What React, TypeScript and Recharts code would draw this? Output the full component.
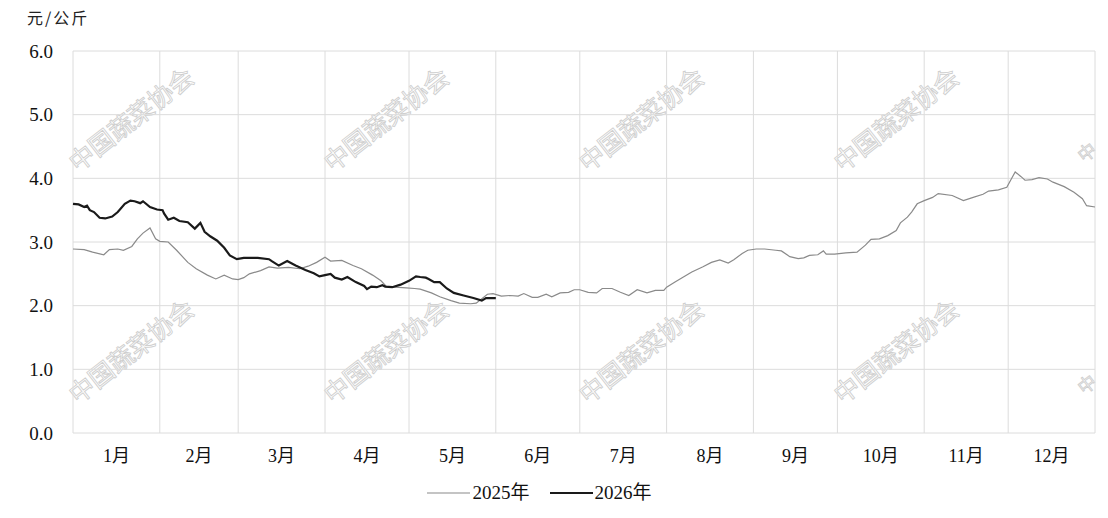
import React from "react"
import {
    LineChart,
    Line,
    XAxis,
    YAxis,
    CartesianGrid,
    ReferenceLine,
    Legend,
} from "recharts"

// day of year (0 = 1 Jan) and price
const days2025 = [
    0, 4, 7, 11, 13, 16, 18, 21, 23, 25, 27.5, 29.5, 31, 34, 37, 41, 44, 48, 51, 54, 57, 59, 61, 63,
    67, 70, 73, 77, 81, 84, 87, 90, 92, 96, 100, 103, 107, 110, 112, 115, 119, 122, 124, 128, 131,
    135, 138, 142, 144, 148, 150, 153, 156, 159, 161, 164, 166, 169, 171, 174, 177, 179, 181, 184,
    187, 189, 192.5, 195.5, 198.5, 201.5, 205, 208, 211, 212, 215, 218, 221, 225, 228, 231, 234,
    236, 239, 241, 244, 247, 251, 253, 256, 259, 261, 263, 266, 268, 269, 272, 276, 280, 283, 285,
    288, 291, 294, 295.5, 298, 299.5, 301.5, 304, 307, 309, 314, 318, 321.5, 325, 327, 330.5, 333.5,
    335.5, 336.5, 338.5, 340, 342.5, 345, 348, 350, 354, 357.5, 360.5, 362, 365,
]
const price2025 = [
    2.89, 2.88, 2.84, 2.8, 2.88, 2.89, 2.87, 2.93, 3.05, 3.14, 3.22, 3.05, 3.01, 3.0, 2.87, 2.68,
    2.58, 2.48, 2.42, 2.48, 2.42, 2.41, 2.44, 2.5, 2.55, 2.61, 2.59, 2.6, 2.58, 2.62, 2.68, 2.76,
    2.7, 2.71, 2.63, 2.58, 2.48, 2.39, 2.3, 2.29, 2.28, 2.27, 2.26, 2.2, 2.14, 2.08, 2.04, 2.03,
    2.04, 2.18, 2.19, 2.15, 2.16, 2.15, 2.19, 2.13, 2.13, 2.18, 2.14, 2.2, 2.21, 2.25, 2.25, 2.21,
    2.2, 2.27, 2.27, 2.21, 2.16, 2.25, 2.2, 2.24, 2.24, 2.29, 2.37, 2.45, 2.53, 2.61, 2.68, 2.72,
    2.67, 2.72, 2.82, 2.87, 2.89, 2.89, 2.87, 2.86, 2.77, 2.74, 2.75, 2.79, 2.8, 2.86, 2.81, 2.81,
    2.83, 2.84, 2.95, 3.04, 3.05, 3.1, 3.18, 3.3, 3.39, 3.47, 3.6, 3.65, 3.7, 3.76, 3.73, 3.65, 3.7,
    3.75, 3.8, 3.82, 3.86, 4.02, 4.1, 4.03, 3.97, 3.98, 4.01, 3.99, 3.94, 3.87, 3.78, 3.68, 3.57,
    3.55,
]

const days2026 = [
    0, 2, 4, 5, 6, 7.5, 9.5, 11.5, 14, 16, 18.5, 20.5, 22, 24, 25, 27.5, 30, 32, 32.5, 34, 36, 38,
    41, 43.5, 45.5, 47, 49, 51.5, 54, 56, 58.5, 61, 63, 66, 70, 71, 73.5, 76.5, 79.5, 83, 86, 88,
    90, 92, 93.5, 96, 98, 101, 104, 105, 106.5, 108.5, 110.5, 111.5, 114, 117, 120, 122.5, 124, 126,
    127, 129, 131, 133.5, 136, 139.5, 143, 146, 147.5, 151,
]
const price2026 = [
    3.6, 3.59, 3.55, 3.57, 3.5, 3.47, 3.38, 3.37, 3.4, 3.47, 3.6, 3.65, 3.64, 3.61, 3.64, 3.55, 3.51,
    3.5, 3.45, 3.35, 3.38, 3.33, 3.31, 3.21, 3.3, 3.16, 3.09, 3.02, 2.91, 2.79, 2.73, 2.75, 2.75,
    2.75, 2.73, 2.7, 2.63, 2.7, 2.63, 2.56, 2.51, 2.46, 2.48, 2.5, 2.44, 2.41, 2.45, 2.37, 2.31, 2.26,
    2.3, 2.29, 2.32, 2.3, 2.29, 2.33, 2.39, 2.46, 2.45, 2.44, 2.42, 2.37, 2.37, 2.27, 2.2, 2.16, 2.12,
    2.08, 2.12, 2.12,
]

const monthLabels = ["1月", "2月", "3月", "4月", "5月", "6月", "7月", "8月", "9月", "10月", "11月", "12月"]
const monthStarts = [0, 31, 59, 90, 120, 151, 181, 212, 243, 273, 304, 334, 365]
const monthMids = monthStarts.slice(0, 12).map((d, i) => (d + monthStarts[i + 1]) / 2)
const yTicks = [0, 1, 2, 3, 4, 5, 6]

const data2025 = days2025.map((day, i) => ({ day, value: price2025[i] }))
const data2026 = days2026.map((day, i) => ({ day, value: price2026[i] }))

const SERIF = '"Liberation Serif", "Times New Roman", "Noto Sans CJK SC", serif'
const GRID = "#dcdcdc"

// watermark centres (page background, not data)
const WATERMARKS = [130, 385, 640, 895].flatMap((x) => [
    { x, y: 118 },
    { x, y: 350 },
])

const LegendContent = () => (
    <div
        style={{
            height: 30,
            paddingTop: 9,
            paddingRight: 16,
            boxSizing: "border-box",
            display: "flex",
            justifyContent: "center",
            gap: 20,
            fontFamily: SERIF,
            fontSize: 19,
            lineHeight: "22px",
            color: "#111",
        }}
    >
        <span style={{ display: "flex", alignItems: "center", gap: 2 }}>
            <svg width="43" height="4">
                <line x1="0" y1="2" x2="43" y2="2" stroke="#8a8a8a" strokeWidth={1.2} />
            </svg>
            2025年
        </span>
        <span style={{ display: "flex", alignItems: "center", gap: 2 }}>
            <svg width="43" height="4">
                <line x1="0" y1="2" x2="43" y2="2" stroke="#1a1a1a" strokeWidth={2} />
            </svg>
            2026年
        </span>
    </div>
)

export default function App() {
    return (
        <div style={{ position: "absolute", left: 0, top: 0, width: 1108, height: 518, background: "#fff" }}>
            {/* watermark */}
            <svg width={1108} height={518} style={{ position: "absolute", left: 0, top: 0 }}>
                {WATERMARKS.map((w, i) => (
                    <text
                        key={i}
                        x={w.x}
                        y={w.y}
                        transform={`rotate(-38 ${w.x} ${w.y})`}
                        textAnchor="middle"
                        dominantBaseline="central"
                        fontFamily='"Noto Sans CJK SC", sans-serif'
                        fontSize={25}
                        fill="none"
                        stroke="#cfcfcf"
                        strokeWidth={0.9}
                    >
                        中国蔬菜协会
                    </text>
                ))}
                {[163, 395].map((y) => (
                    <text
                        key={y}
                        x={1084}
                        y={y}
                        transform={`rotate(-38 1084 ${y})`}
                        fontFamily='"Noto Sans CJK SC", sans-serif'
                        fontSize={18}
                        fill="none"
                        stroke="#cfcfcf"
                        strokeWidth={0.9}
                    >
                        中
                    </text>
                ))}
            </svg>
            <div
                style={{
                    position: "absolute",
                    left: 27,
                    top: 5,
                    fontFamily: '"Noto Sans CJK SC", sans-serif',
                    fontSize: 16,
                    letterSpacing: 2,
                    color: "#222",
                }}
            >
                元/公斤
            </div>
            <div style={{ position: "absolute", left: 0, top: 0, fontFamily: SERIF }}>
                <LineChart width={1108} height={518} margin={{ top: 51, right: 13, left: 0, bottom: 15 }}>
                    <CartesianGrid stroke={GRID} vertical={false} />
                    {monthStarts.map((d) => (
                        <ReferenceLine key={d} x={d} stroke={GRID} ifOverflow="extendDomain" />
                    ))}
                    <XAxis
                        dataKey="day"
                        type="number"
                        domain={[0, 365]}
                        ticks={monthMids}
                        tickFormatter={(v: number) => monthLabels[monthMids.indexOf(v)] ?? ""}
                        axisLine={false}
                        tickLine={false}
                        tickSize={0}
                        tickMargin={16}
                        height={40}
                        tick={{ fontSize: 18, fill: "#111", fontFamily: SERIF }}
                        allowDuplicatedCategory={false}
                    />
                    <YAxis
                        type="number"
                        domain={[0, 6]}
                        ticks={yTicks}
                        tickFormatter={(v: number) => v.toFixed(1)}
                        axisLine={false}
                        tickLine={false}
                        tickSize={0}
                        tickMargin={20}
                        width={73}
                        tick={{ fontSize: 19, fill: "#111", fontFamily: SERIF }}
                    />
                    <Legend verticalAlign="bottom" content={<LegendContent />} />
                    <Line
                        data={data2025}
                        dataKey="value"
                        name="2025年"
                        type="linear"
                        stroke="#8a8a8a"
                        strokeWidth={1.2}
                        dot={false}
                        isAnimationActive={false}
                    />
                    <Line
                        data={data2026}
                        dataKey="value"
                        name="2026年"
                        type="linear"
                        stroke="#1a1a1a"
                        strokeWidth={2.2}
                        dot={false}
                        isAnimationActive={false}
                    />
                </LineChart>
            </div>
        </div>
    )
}
